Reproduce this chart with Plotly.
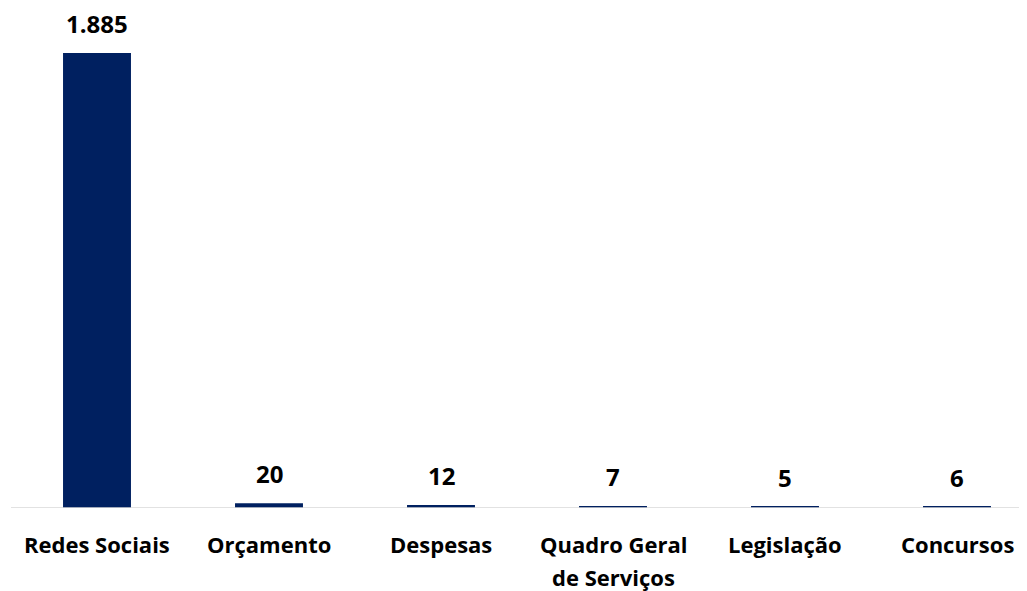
import plotly.graph_objects as go

categories = ["Redes Sociais", "Orçamento", "Despesas", "Quadro Geral\nde Serviços", "Legislação", "Concursos"]
values = [1885, 20, 12, 7, 5, 6]
value_labels = ["1.885", "20", "12", "7", "5", "6"]

BAR = "#002060"
FONT = "Open Sans"

xs = list(range(len(categories)))
fig = go.Figure(go.Bar(x=xs, y=values, marker=dict(color=BAR, line=dict(width=0)),
                       width=0.395, hoverinfo="skip"))

annotations = []
for x, v, lab in zip(xs, values, value_labels):
    annotations.append(dict(x=x, y=v, xref="x", yref="y", text=f"<b>{lab}</b>", showarrow=False,
                            yanchor="bottom", yshift=11, font=dict(family=FONT, size=24, color="#000000")))
for x, c in zip(xs, categories):
    for i, line in enumerate(c.split("\n")):
        annotations.append(dict(x=x, y=0, xref="x", yref="y", text=f"<b>{line}</b>", showarrow=False,
                                yanchor="middle", yshift=-36 - 33 * i,
                                font=dict(family=FONT, size=22, color="#000000")))

fig.update_layout(
    width=1019, height=583,
    margin=dict(l=3, r=0, t=0, b=83),
    paper_bgcolor="white", plot_bgcolor="white",
    showlegend=False,
    xaxis=dict(range=[-0.5, 5.407], showticklabels=False, ticks="", showgrid=False,
               zeroline=False, showline=False, fixedrange=True),
    yaxis=dict(range=[0, 2071], visible=False, showgrid=False, zeroline=False),
    shapes=[dict(type="line", xref="paper", yref="y", x0=0, x1=1, y0=0, y1=0,
                 line=dict(color="#d9d9d9", width=1.5), layer="above")],
    annotations=annotations,
)
fig.write_html("out.html")
